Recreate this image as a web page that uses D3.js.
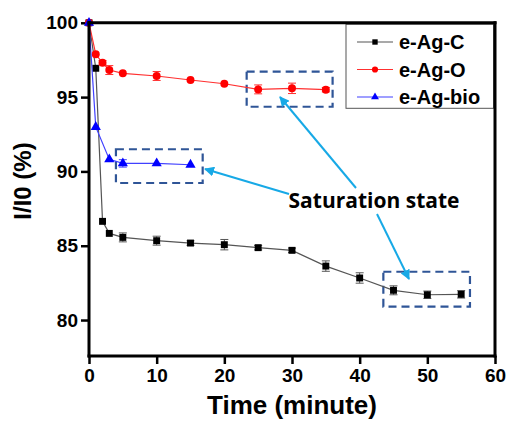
<!DOCTYPE html>
<html><head><meta charset="utf-8">
<script src="https://cdn.jsdelivr.net/npm/d3@7"></script>
<style>body{margin:0;background:#fff}svg{display:block}</style>
</head><body>
<svg id="c" width="507" height="422"></svg>
<script>
const seriesNames = ["e-Ag-C", "e-Ag-O", "e-Ag-bio"];
const timeC = [0, 1, 2, 3, 5, 10, 15, 20, 25, 30, 35, 40, 45, 50, 55];
const valC  = [100, 96.94, 86.64, 85.83, 85.56, 85.34, 85.18, 85.07, 84.87, 84.69, 83.63, 82.83, 82.0, 81.7, 81.73];
const errC  = [0, 0, 0.1, 0.1, 0.3, 0.3, 0.15, 0.35, 0.15, 0.15, 0.35, 0.35, 0.3, 0.25, 0.25];
const timeO = [0, 1, 2, 3, 5, 10, 15, 20, 25, 30, 35];
const valO  = [100, 97.88, 97.31, 96.82, 96.6, 96.42, 96.15, 95.9, 95.52, 95.59, 95.5];
const errO  = [0, 0.1, 0.15, 0.3, 0.1, 0.3, 0.1, 0.1, 0.3, 0.35, 0.15];
const timeB = [0, 1, 3, 5, 10, 15];
const valB  = [100, 92.99, 90.81, 90.54, 90.54, 90.45];
const errB  = [0, 0.1, 0.1, 0.25, 0.1, 0.1];
const xTicks = [0, 10, 20, 30, 40, 50, 60];
const yTicks = [80, 85, 90, 95, 100];
// dashed "saturation" boxes: [x0, x1, y0, y1] in data units
const boxes = [[3.98, 16.8, 89.22, 91.49], [23.3, 36.0, 94.35, 96.71], [43.5, 56.3, 80.9, 83.25]];

const svg = d3.select("#c");
const x = d3.scaleLinear().domain([0, 60]).range([89, 495]);
const y = d3.scaleLinear().domain([77.58, 100]).range([356, 22.8]);

const F = "'Liberation Sans', Arial, sans-serif";

const xa = svg.append("g").attr("transform", "translate(0,356)")
  .call(d3.axisBottom(x).tickValues(xTicks).tickSize(8).tickPadding(5));
const ya = svg.append("g").attr("transform", "translate(89,0)")
  .call(d3.axisLeft(y).tickValues(yTicks).tickSize(8).tickPadding(3));
[xa, ya].forEach(a => {
  a.select(".domain").remove();
  a.selectAll(".tick line").style("stroke", "#000").style("stroke-width", "2.5px");
  a.selectAll("text").attr("font-family", F).attr("font-weight", "bold").attr("font-size", 19).attr("fill", "#000");
});

svg.append("text").attr("x", 292).attr("y", 414).attr("text-anchor", "middle")
  .attr("font-family", F).attr("font-weight", "bold").attr("font-size", 26).text("Time (minute)");
svg.append("text").attr("transform", "translate(31,181) rotate(-90)").attr("text-anchor", "middle")
  .attr("font-family", F).attr("font-weight", "bold").attr("font-size", 24).text("I/I0 (%)");

// dashed boxes
boxes.forEach(b => {
  svg.append("rect").attr("x", x(b[0])).attr("y", y(b[3]))
    .attr("width", x(b[1]) - x(b[0])).attr("height", y(b[2]) - y(b[3]))
    .attr("fill", "none").attr("stroke", "#2f5597").attr("stroke-width", 2.2)
    .attr("stroke-dasharray", "8,5");
});

const series = [
  {t: timeC, v: valC, e: errC, line: "#555", col: "#000", sym: d3.symbolSquare, size: 48},
  {t: timeO, v: valO, e: errO, line: "#ff3030", col: "#ff0000", sym: d3.symbolCircle, size: 50},
  {t: timeB, v: valB, e: errB, line: "#4040ff", col: "#0000ff", sym: d3.symbolTriangle, size: 45}
];
const line = d3.line().x(d => x(d[0])).y(d => y(d[1]));
series.forEach(s => {
  const pts = s.t.map((t, i) => [t, s.v[i], s.e[i]]);
  svg.append("path").attr("d", line(pts)).attr("fill", "none").attr("stroke", s.line).attr("stroke-width", 1.2);
  const g = svg.append("g");
  pts.forEach(p => {
    if (p[2] > 0.12) {
      const xx = x(p[0]);
      g.append("line").attr("x1", xx).attr("x2", xx).attr("y1", y(p[1] - p[2])).attr("y2", y(p[1] + p[2]))
        .attr("stroke", s.line).attr("stroke-width", 1);
      [p[1] - p[2], p[1] + p[2]].forEach(v => g.append("line").attr("x1", xx - 4).attr("x2", xx + 4)
        .attr("y1", y(v)).attr("y2", y(v)).attr("stroke", s.line).attr("stroke-width", 1));
    }
    g.append("path").attr("d", d3.symbol(s.sym, s.size)())
      .attr("transform", `translate(${x(p[0])},${y(p[1])})`).attr("fill", s.col);
  });
});

// legend
svg.append("rect").attr("x", 346).attr("y", 24.3).attr("width", 147.5).attr("height", 84)
  .attr("fill", "#fff").attr("stroke", "#555").attr("stroke-width", 1);
series.forEach((s, i) => {
  const yy = 42 + i * 27.5;
  svg.append("line").attr("x1", 357).attr("x2", 393).attr("y1", yy).attr("y2", yy).attr("stroke", s.line).attr("stroke-width", 1.2);
  svg.append("path").attr("d", d3.symbol(s.sym, s.size * 0.6)()).attr("transform", `translate(375,${yy})`).attr("fill", s.col);
  svg.append("text").attr("x", 399).attr("y", yy + 7).attr("font-family", F).attr("font-weight", "bold")
    .attr("font-size", 20).text(seriesNames[i]);
});

// annotation
const defs = svg.append("defs");
defs.append("marker").attr("id", "ah").attr("viewBox", "0 0 10 10").attr("refX", 9).attr("refY", 5)
  .attr("markerWidth", 5).attr("markerHeight", 5).attr("orient", "auto")
  .append("path").attr("d", "M0,0 L10,5 L0,10 z").attr("fill", "#17a9e6");
[[289, 194, 205, 169], [356, 188, 280, 97], [377, 214, 409, 279]].forEach(a => {
  svg.append("line").attr("x1", a[0]).attr("y1", a[1]).attr("x2", a[2]).attr("y2", a[3])
    .attr("stroke", "#17a9e6").attr("stroke-width", 2).attr("marker-end", "url(#ah)");
});
svg.append("text").attr("x", 374).attr("y", 208).attr("text-anchor", "middle")
  .attr("font-family", "'Open Sans', 'Noto Sans', sans-serif").attr("font-weight", "bold")
  .attr("font-size", 21).text("Saturation state");

// frame (drawn last)
const fr = [[x(0), y.range()[1], x(60), y.range()[1]], [x(60), y.range()[1], x(60), y.range()[0]],
            [x(0), y.range()[0], x(60), y.range()[0]], [x(0), y.range()[1], x(0), y.range()[0]]];
fr.forEach(l => svg.append("line").attr("x1", l[0]).attr("y1", l[1]).attr("x2", l[2]).attr("y2", l[3])
  .style("stroke", "#000").style("stroke-width", "3px").style("stroke-linecap", "square"));
</script>
</body></html>
